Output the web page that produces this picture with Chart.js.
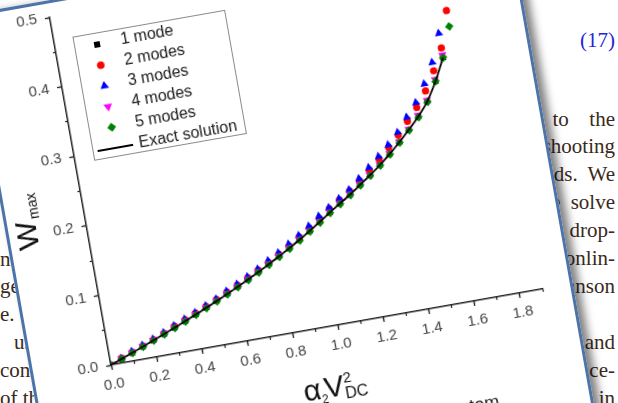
<!DOCTYPE html>
<html>
<head>
<meta charset="utf-8">
<script src="https://cdn.jsdelivr.net/npm/chart.js@4/dist/chart.umd.min.js"></script>
<style>
  html, body { margin: 0; padding: 0; background: #fff; }
  body { width: 618px; height: 403px; overflow: hidden; position: relative; }
  .txt { position: absolute; font: 21px 'Liberation Serif', 'Times New Roman', serif; color: #3a2a1c; white-space: nowrap; line-height: 1; }
  .r { right: 3px; text-align: right; word-spacing: 5px; }
  .l { left: 0; }
  #panel {
    position: absolute; left: 29.5px; top: -5.5px; width: 550px; height: 510px;
    box-sizing: border-box; border: 3px solid #4d74a8;
    transform-origin: 81px 370px; transform: rotate(-10deg);
    background: #fff;
    box-shadow: 6px 3px 8px rgba(0,0,0,0.5);
  }
  #chart { position: absolute; left: -3px; top: -3px; }
</style>
</head>
<body>
<div class="txt r" style="top:30px;color:#2323d8">(17)</div>
<div class="txt r" style="top:109px">reduced&nbsp;&nbsp;&nbsp;&nbsp; to&nbsp; the</div>
<div class="txt r" style="top:136px">the shooting</div>
<div class="txt r" style="top:164px">methods. We</div>
<div class="txt r" style="top:192px">we solve</div>
<div class="txt r" style="top:220px">the drop-</div>
<div class="txt r" style="top:248px">the nonlin-</div>
<div class="txt r" style="top:276px">Johnson</div>
<div class="txt r" style="top:332px">and</div>
<div class="txt r" style="top:360px">ance-</div>
<div class="txt r" style="top:388px">in</div>
<div class="txt l" style="top:249px">nonlinear</div>
<div class="txt l" style="top:276px">gence of</div>
<div class="txt l" style="top:304px">e. The</div>
<div class="txt l" style="top:332px;left:14px">using</div>
<div class="txt l" style="top:360px">consider</div>
<div class="txt l" style="top:388px">of the</div>

<div id="panel"><canvas id="chart" width="546" height="510"></canvas></div>

<script>
// alpha_2 V_DC^2 values
const xVals = [0, 0.05, 0.1, 0.15, 0.2, 0.25, 0.3, 0.35, 0.4, 0.45, 0.5, 0.55, 0.6, 0.65, 0.7, 0.75, 0.8, 0.85,
               0.9, 0.95, 1.0, 1.05, 1.1, 1.15, 1.2, 1.25, 1.3, 1.35, 1.4, 1.45, 1.5, 1.55, 1.6, 1.65, 1.7];

const exact = [0, 0.0058, 0.0117, 0.0177, 0.0238, 0.0301, 0.0364, 0.0429, 0.0495, 0.0564, 0.0633, 0.0705, 0.0779,
               0.0856, 0.0935, 0.1017, 0.1103, 0.1191, 0.1284, 0.1381, 0.1483, 0.159, 0.169, 0.179, 0.190, 0.201,
               0.213, 0.226, 0.240, 0.255, 0.271, 0.290, 0.316, 0.347];
const oneMode = [0, 0.0058, 0.0117, 0.0177, 0.0238, 0.0301, 0.0364, 0.0429, 0.0495, 0.0564, 0.0633, 0.0705, 0.0779,
                 0.0856, 0.0935, 0.1017, 0.1103, 0.1191, 0.1284, 0.1381, 0.1483, 0.159, 0.169, 0.179, 0.190, 0.201,
                 0.213, 0.226, 0.240, 0.255, 0.271, 0.290, 0.316, 0.347];
const twoModes = [0, 0.0068, 0.0127, 0.0187, 0.0248, 0.0311, 0.0384, 0.0449, 0.0515, 0.0584, 0.0653, 0.073, 0.0804,
                  0.0881, 0.096, 0.1042, 0.1133, 0.1221, 0.1324, 0.1421, 0.1533, 0.164, 0.174, 0.184, 0.196, 0.208,
                  0.221, 0.235, 0.250, 0.267, 0.284, 0.305, 0.331, 0.361, 0.412];
const threeModes = [0, 0.0068, 0.0137, 0.0197, 0.0258, 0.0321, 0.0394, 0.0459, 0.0525, 0.0594, 0.0663, 0.0745, 0.0819,
                    0.0896, 0.0975, 0.1067, 0.1153, 0.1251, 0.1344, 0.1451, 0.1563, 0.166, 0.176, 0.186, 0.199, 0.212,
                    0.225, 0.239, 0.254, 0.273, 0.291, 0.315, 0.343, 0.382];
const fourModes = [0, 0.0068, 0.0127, 0.0187, 0.0248, 0.0311, 0.0374, 0.0439, 0.0505, 0.0574, 0.0643, 0.0715, 0.0789,
                   0.0866, 0.0945, 0.1027, 0.1113, 0.1201, 0.1294, 0.1391, 0.1493, 0.160, 0.170, 0.180, 0.191, 0.202,
                   0.214, 0.227, 0.241, 0.256, 0.273, 0.292, 0.319, 0.351];
const fiveModes = [0, 0.0056, 0.0114, 0.0174, 0.0234, 0.0296, 0.0359, 0.0423, 0.0489, 0.0557, 0.0626, 0.0697, 0.0771,
                   0.0847, 0.0926, 0.1008, 0.1093, 0.1181, 0.1273, 0.137, 0.1472, 0.158, 0.168, 0.178, 0.189, 0.200,
                   0.212, 0.225, 0.239, 0.254, 0.270, 0.289, 0.316, 0.347, 0.389];

const xMajor = [0, 0.2, 0.4, 0.6, 0.8, 1.0, 1.2, 1.4, 1.6, 1.8];
const xMinor = [0, 0.1, 0.2, 0.3, 0.4, 0.5, 0.6, 0.7, 0.8, 0.9, 1.0, 1.1, 1.2, 1.3, 1.4, 1.5, 1.6, 1.7, 1.8, 1.9];
const yMajor = [0, 0.1, 0.2, 0.3, 0.4, 0.5];
const yMinor = [0, 0.05, 0.1, 0.15, 0.2, 0.25, 0.3, 0.35, 0.4, 0.45, 0.5];

const seriesLabels = ['1 mode', '2 modes', '3 modes', '4 modes', '5 modes', 'Exact solution'];

const FONT = "'Liberation Sans', Arial, sans-serif";
const legendRadius = [3, 3.8, 5, 5, 4.5];

function pts(vals) {
    return vals.map((y, i) => ({ x: xVals[i], y: y }));
}

function setTicks(list) {
    return function (scale) { scale.ticks = list.map(v => ({ value: v })); };
}

function marker(ctx, style, rot, r, x, y, color) {
    ctx.fillStyle = color;
    ctx.beginPath();
    if (style === 'rect') {
        ctx.rect(x - r, y - r, 2 * r, 2 * r);
    } else if (style === 'circle') {
        ctx.arc(x, y, r, 0, Math.PI * 2);
    } else if (style === 'triangle') {
        const s = rot ? -1 : 1;
        ctx.moveTo(x, y - s * r);
        ctx.lineTo(x + r * 0.866, y + s * r * 0.5);
        ctx.lineTo(x - r * 0.866, y + s * r * 0.5);
    } else {
        ctx.moveTo(x, y - r); ctx.lineTo(x + r, y); ctx.lineTo(x, y + r); ctx.lineTo(x - r, y);
    }
    ctx.closePath();
    ctx.fill();
}

// legend box + axis titles
const extras = {
    id: 'extras',
    afterDraw(chart) {
        const ctx = chart.ctx, a = chart.chartArea;
        ctx.save();

        const bx = a.left + 19, by = a.top + 23;
        ctx.strokeStyle = '#8a8a8a';
        ctx.lineWidth = 1;
        ctx.strokeRect(bx + 0.5, by + 0.5, 154, 125);
        ctx.font = '16px ' + FONT;
        ctx.textBaseline = 'middle';
        ctx.textAlign = 'left';
        chart.data.datasets.forEach((ds, i) => {
            const cy = by + 12 + 21 * i;
            if (ds.showLine) {
                ctx.strokeStyle = ds.borderColor;
                ctx.lineWidth = 2;
                ctx.beginPath(); ctx.moveTo(bx + 5, cy); ctx.lineTo(bx + 41, cy); ctx.stroke();
            } else {
                marker(ctx, ds.pointStyle, ds.pointRotation, legendRadius[i], bx + 23, cy, ds.pointBackgroundColor);
            }
            ctx.fillStyle = '#1a1a1a';
            ctx.fillText(ds.label, bx + 47, cy);
        });

        // x title: alpha_2 V^2_DC
        ctx.fillStyle = '#111';
        ctx.textBaseline = 'alphabetic';
        const tx = a.left + 185, ty = a.bottom + 70;
        ctx.font = '30px ' + FONT; ctx.fillText('α', tx, ty);
        ctx.font = '12px ' + FONT; ctx.fillText('2', tx + 17, ty + 5);
        ctx.font = '30px ' + FONT; ctx.fillText('V', tx + 21, ty);
        ctx.font = '15px ' + FONT; ctx.fillText('2', tx + 41, ty - 12);
        ctx.font = '16px ' + FONT; ctx.fillText('DC', tx + 41, ty + 4);

        // y title: W_max
        ctx.translate(a.left - 61, a.bottom - 142);
        ctx.rotate(-Math.PI / 2);
        ctx.textAlign = 'center';
        ctx.font = '30px ' + FONT; ctx.fillText('W', 0, 11);
        ctx.textAlign = 'left';
        ctx.font = '14px ' + FONT; ctx.fillText('max', 15, 16);
        ctx.restore();

        // caption fragment at the bottom of the figure
        ctx.save();
        ctx.fillStyle = '#222';
        ctx.font = '18px ' + FONT;
        ctx.fillText('system', 400, 479);
        ctx.restore();
    }
};

function main() {
    const axisCol = '#222';
    new Chart(document.getElementById('chart'), {
        type: 'scatter',
        data: {
            datasets: [
                { label: seriesLabels[0], data: pts(oneMode), pointStyle: 'rect', pointRadius: 4,
                  pointBackgroundColor: '#000000', pointBorderWidth: 0, order: 6 },
                { label: seriesLabels[1], data: pts(twoModes), pointStyle: 'circle', pointRadius: 3.6,
                  pointBackgroundColor: '#ff0000', pointBorderWidth: 0, order: 5 },
                { label: seriesLabels[2], data: pts(threeModes), pointStyle: 'triangle', pointRadius: 4.8,
                  pointBackgroundColor: '#0000ff', pointBorderWidth: 0, order: 4 },
                { label: seriesLabels[3], data: pts(fourModes), pointStyle: 'triangle', pointRotation: 180, pointRadius: 4.8,
                  pointBackgroundColor: '#ff00ff', pointBorderWidth: 0, order: 3 },
                { label: seriesLabels[4], data: pts(fiveModes), pointStyle: 'rectRot', pointRadius: 4.3,
                  pointBackgroundColor: '#008000', pointBorderWidth: 0, order: 2 },
                { label: seriesLabels[5], data: pts(exact), showLine: true, pointRadius: 0,
                  borderColor: '#000000', borderWidth: 1.8, cubicInterpolationMode: 'monotone', order: 1 }
            ]
        },
        options: {
            responsive: false,
            devicePixelRatio: 1,
            animation: false,
            events: [],
            layout: { padding: { left: 41, right: 27, top: 14, bottom: 100 } },
            plugins: { legend: { display: false }, tooltip: { enabled: false } },
            scales: {
                x: {
                    type: 'linear', position: 'bottom', min: 0, max: 1.9,
                    afterBuildTicks: setTicks(xMajor),
                    ticks: { autoSkip: false, maxRotation: 0, minRotation: 0, padding: 6, color: '#444',
                             font: { family: FONT, size: 15 }, callback: v => v.toFixed(1) },
                    grid: { drawOnChartArea: false, tickLength: 5, color: axisCol, tickWidth: 1.3 },
                    border: { color: axisCol, width: 1.5 },
                    afterFit: s => { s.height = 40; }
                },
                y: {
                    type: 'linear', position: 'left', min: 0, max: 0.5,
                    afterBuildTicks: setTicks(yMajor),
                    ticks: { autoSkip: false, padding: 8, color: '#444',
                             font: { family: FONT, size: 15 }, callback: v => v.toFixed(1) },
                    grid: { drawOnChartArea: false, tickLength: 5, color: axisCol, tickWidth: 1.3 },
                    border: { color: axisCol, width: 1.5 },
                    afterFit: s => { s.width = 40; }
                },
                x2: {
                    type: 'linear', axis: 'x', position: { y: 0 }, min: 0, max: 1.9,
                    afterBuildTicks: setTicks(xMinor),
                    ticks: { display: false },
                    grid: { drawOnChartArea: false, tickLength: 3, color: axisCol, tickWidth: 1.2 },
                    border: { display: false }
                },
                y2: {
                    type: 'linear', axis: 'y', position: { x: 0 }, min: 0, max: 0.5,
                    afterBuildTicks: setTicks(yMinor),
                    ticks: { display: false },
                    grid: { drawOnChartArea: false, tickLength: 3, color: axisCol, tickWidth: 1.2 },
                    border: { display: false }
                }
            }
        },
        plugins: [extras]
    });
}

window.onload = main;
</script>
</body>
</html>
